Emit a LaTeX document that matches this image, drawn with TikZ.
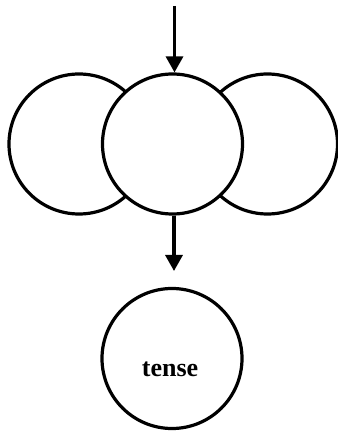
\documentclass[tikz,border=0pt]{standalone}
\usepackage{fontspec}
\setmainfont{Liberation Serif}
\usetikzlibrary{arrows.meta}
\begin{document}
\begin{tikzpicture}[x=1pt,y=1pt,
  ring/.style={circle,draw=black,fill=white,line width=3.2pt,minimum size=140pt,inner sep=0pt},
  arr/.style={line width=3.2pt,-{Triangle[width=17pt,length=16pt]}},
  lbl/.style={font=\bfseries\fontsize{26}{30}\selectfont,anchor=base,inner sep=0pt}]
\useasboundingbox (0,0) rectangle (337,433);
\node[ring] (left) at (79,289) {};
\node[ring] (right) at (267.5,289) {};
\node[ring] (mid) at (172.5,289) {};
\node[ring] (tense) at (172,74.5) {};
\node[lbl] (tenselbl) at (170,56) {tense};
\coordinate (top) at (174.5,427);
\coordinate (a2) at (174,162);
\draw[arr] (top) -- (top |- mid.north);
\draw[arr] (a2 |- mid.south) -- (a2);
\end{tikzpicture}
\end{document}
